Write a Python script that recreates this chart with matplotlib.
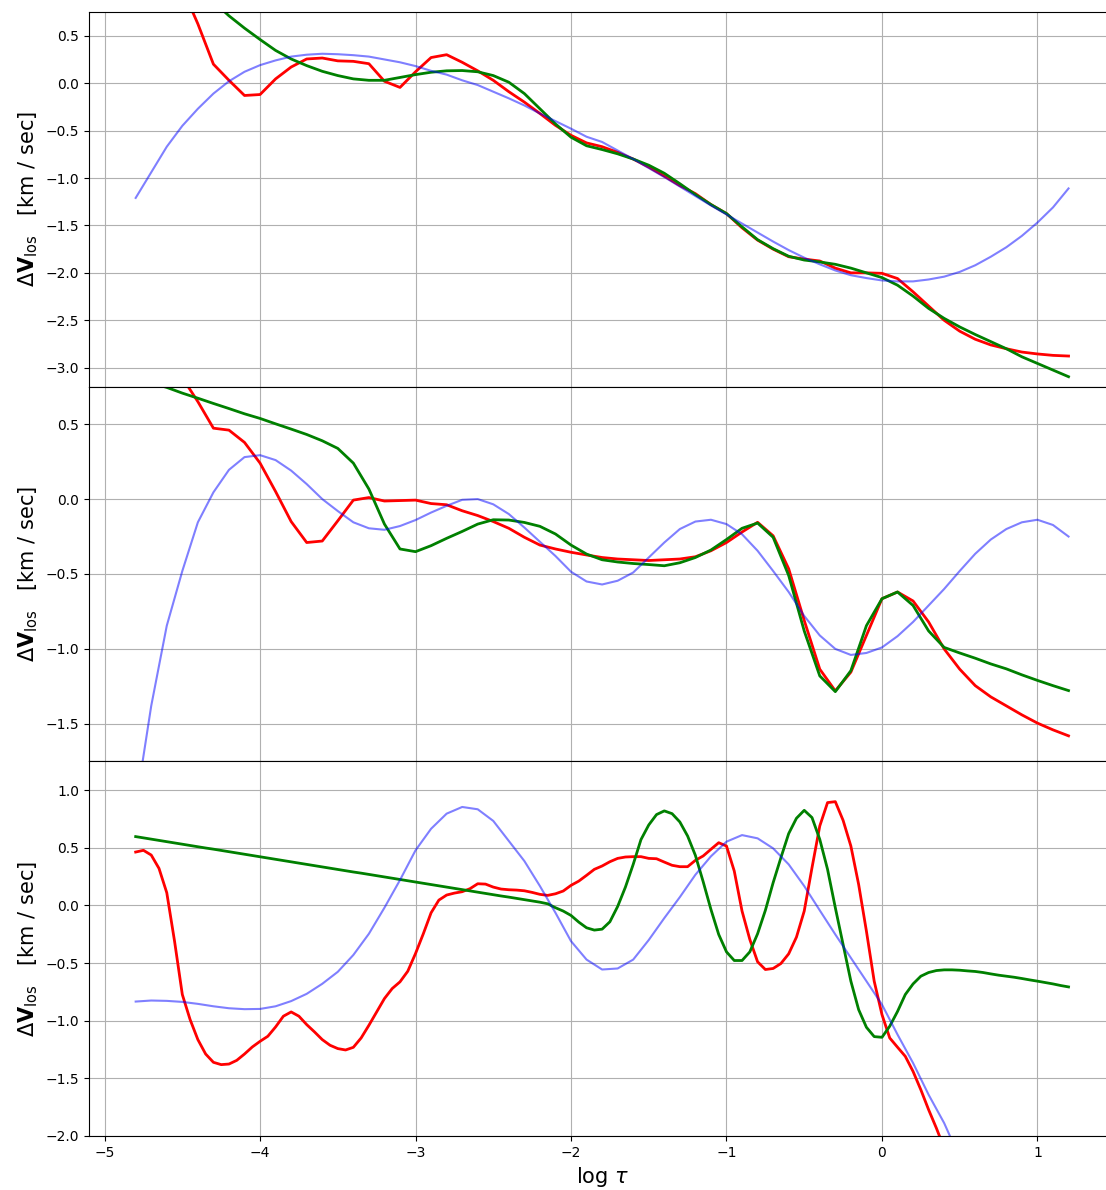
import numpy as np
import matplotlib
matplotlib.use("Agg")
import matplotlib.pyplot as plt

# optical depth grids (log tau)
tau10 = np.linspace(-4.8, 1.2, 61)
tau05 = np.linspace(-4.8, 1.2, 121)

# panel 1
p1_red = [1.8, 1.55, 1.3, 1.0, 0.625, 0.20, 0.03, -0.13, -0.12, 0.045,
          0.17, 0.255, 0.265, 0.235, 0.23, 0.205, 0.02, -0.045, 0.12, 0.27,
          0.30, 0.22, 0.13, 0.03, -0.09, -0.20, -0.32, -0.445, -0.55, -0.63,
          -0.67, -0.73, -0.80, -0.885, -0.98, -1.08, -1.165, -1.28, -1.375, -1.525,
          -1.655, -1.75, -1.83, -1.855, -1.875, -1.95, -2.0, -2.0, -2.005, -2.06,
          -2.2, -2.35, -2.50, -2.615, -2.70, -2.76, -2.80, -2.835, -2.855, -2.87,
          -2.877]
p1_green = [1.5, 1.37, 1.24, 1.11, 0.99, 0.86, 0.71, 0.58, 0.46, 0.345,
            0.255, 0.185, 0.125, 0.08, 0.045, 0.03, 0.03, 0.06, 0.09, 0.115,
            0.13, 0.133, 0.12, 0.08, 0.01, -0.11, -0.27, -0.43, -0.57, -0.66,
            -0.70, -0.745, -0.80, -0.865, -0.95, -1.06, -1.175, -1.28, -1.375, -1.515,
            -1.65, -1.745, -1.825, -1.865, -1.885, -1.91, -1.95, -2.0, -2.05, -2.13,
            -2.245, -2.375, -2.48, -2.57, -2.65, -2.725, -2.80, -2.885, -2.955, -3.025,
            -3.095]
p1_blue = [-1.21, -0.94, -0.67, -0.45, -0.27, -0.11, 0.02, 0.12, 0.19, 0.24,
           0.28, 0.30, 0.31, 0.305, 0.295, 0.28, 0.25, 0.22, 0.18, 0.13,
           0.09, 0.03, -0.02, -0.09, -0.16, -0.235, -0.32, -0.40, -0.48, -0.565,
           -0.62, -0.71, -0.80, -0.895, -0.99, -1.09, -1.19, -1.29, -1.385, -1.48,
           -1.575, -1.67, -1.76, -1.84, -1.91, -1.975, -2.025, -2.055, -2.08, -2.09,
           -2.09, -2.07, -2.04, -1.99, -1.92, -1.83, -1.73, -1.61, -1.47, -1.31,
           -1.11]

# panel 2
p2_red = [1.35, 1.17, 0.99, 0.81, 0.65, 0.473, 0.46, 0.378, 0.24, 0.05,
          -0.15, -0.29, -0.28, -0.145, -0.007, 0.01, -0.013, -0.01, -0.007, -0.03,
          -0.038, -0.078, -0.11, -0.15, -0.195, -0.255, -0.307, -0.333, -0.355, -0.373,
          -0.39, -0.40, -0.405, -0.41, -0.405, -0.40, -0.385, -0.345, -0.29, -0.22,
          -0.155, -0.245, -0.465, -0.81, -1.135, -1.28, -1.155, -0.91, -0.665, -0.62,
          -0.68, -0.82, -1.0, -1.135, -1.245, -1.32, -1.38, -1.44, -1.495, -1.54,
          -1.58]
p2_green = [0.81, 0.775, 0.745, 0.707, 0.673, 0.638, 0.604, 0.569, 0.538, 0.502,
            0.467, 0.431, 0.389, 0.338, 0.24, 0.067, -0.167, -0.333, -0.351, -0.311,
            -0.262, -0.216, -0.167, -0.138, -0.14, -0.156, -0.182, -0.233, -0.307, -0.367,
            -0.405, -0.42, -0.43, -0.437, -0.445, -0.425, -0.39, -0.34, -0.27, -0.195,
            -0.16, -0.255, -0.51, -0.88, -1.18, -1.285, -1.145, -0.845, -0.665, -0.62,
            -0.71, -0.88, -0.99, -1.027, -1.062, -1.10, -1.133, -1.173, -1.21, -1.245,
            -1.278]
p2_blue = [-2.05, -1.38, -0.845, -0.48, -0.155, 0.045, 0.195, 0.28, 0.293, 0.26,
           0.19, 0.10, 0.0, -0.08, -0.155, -0.195, -0.205, -0.18, -0.14, -0.09,
           -0.045, -0.005, 0.0, -0.035, -0.10, -0.19, -0.285, -0.38, -0.485, -0.55,
           -0.57, -0.545, -0.49, -0.39, -0.29, -0.20, -0.15, -0.138, -0.167, -0.235,
           -0.345, -0.48, -0.62, -0.78, -0.91, -1.0, -1.04, -1.027, -0.99, -0.915,
           -0.82, -0.71, -0.60, -0.48, -0.365, -0.27, -0.20, -0.155, -0.138, -0.173,
           -0.25]

# panel 3 (red and green sampled on the finer grid)
p3_red = [0.463, 0.478, 0.437, 0.321, 0.11, -0.31, -0.773, -0.99, -1.164, -1.289,
          -1.361, -1.381, -1.376, -1.344, -1.289, -1.228, -1.179, -1.135, -1.054, -0.961,
          -0.924, -0.961, -1.034, -1.097, -1.164, -1.213, -1.242, -1.254, -1.231, -1.15,
          -1.04, -0.924, -0.808, -0.721, -0.663, -0.571, -0.417, -0.246, -0.064, 0.046,
          0.09, 0.107, 0.119, 0.145, 0.188, 0.185, 0.159, 0.142, 0.136, 0.133,
          0.127, 0.113, 0.096, 0.087, 0.101, 0.125, 0.174, 0.211, 0.261, 0.313,
          0.342, 0.379, 0.408, 0.42, 0.423, 0.423, 0.408, 0.405, 0.376, 0.348,
          0.336, 0.336, 0.391, 0.429, 0.487, 0.544, 0.515,
          0.298, -0.049, -0.295, -0.489, -0.556, -0.547, -0.504, -0.42, -0.275, -0.049,
          0.327, 0.689, 0.892, 0.90, 0.738, 0.515, 0.182, -0.223, -0.657, -0.947,
          -1.15, -1.23, -1.309, -1.44, -1.599, -1.772, -1.932, -2.105, -2.28, -2.45,
          -2.62, -2.8, -2.97, -3.15, -3.3, -3.45, -3.6, -3.75, -3.9, -4.05,
          -4.2, -4.35, -4.5, -4.65]
p3_green = [0.597, 0.586, 0.575, 0.564, 0.553, 0.542, 0.531, 0.520, 0.509, 0.498,
            0.488, 0.477, 0.466, 0.455, 0.444, 0.433, 0.422, 0.411, 0.400, 0.389,
            0.378, 0.367, 0.356, 0.345, 0.334, 0.323, 0.312, 0.301, 0.290, 0.280,
            0.269, 0.258, 0.247, 0.236, 0.225, 0.214, 0.203, 0.192, 0.181, 0.170,
            0.159, 0.148, 0.137, 0.126, 0.115, 0.104, 0.093, 0.082, 0.072, 0.061,
            0.050, 0.039, 0.028, 0.014, -0.02, -0.049, -0.087, -0.145, -0.194, -0.214,
            -0.206, -0.142, -0.009, 0.159, 0.356, 0.571, 0.698, 0.788, 0.82, 0.796,
            0.724, 0.602, 0.434, 0.206, -0.035, -0.252, -0.403,
            -0.478, -0.478, -0.403, -0.246, -0.043, 0.197, 0.414, 0.623, 0.756, 0.825,
            0.762, 0.573, 0.313, -0.02, -0.339, -0.657, -0.904, -1.057, -1.138, -1.144,
            -1.048, -0.92, -0.773, -0.681, -0.614, -0.582, -0.565, -0.559, -0.559, -0.562,
            -0.568, -0.573, -0.582, -0.594, -0.605, -0.614, -0.623, -0.634, -0.646, -0.657,
            -0.669, -0.681, -0.695, -0.707]
p3_blue = [-0.834, -0.825, -0.828, -0.837, -0.854, -0.875, -0.892, -0.90, -0.898, -0.875,
           -0.83, -0.767, -0.68, -0.576, -0.43, -0.246, -0.02, 0.22, 0.478, 0.665,
           0.796, 0.854, 0.834, 0.733, 0.559, 0.385, 0.168, -0.064, -0.31, -0.47,
           -0.556, -0.547, -0.47, -0.30, -0.11, 0.072, 0.266, 0.426, 0.553, 0.61,
           0.582, 0.495, 0.356, 0.168, -0.043, -0.252, -0.455, -0.657, -0.86, -1.12,
           -1.367, -1.642, -1.888, -2.19, -2.51, -2.83, -3.15, -3.5, -3.85, -4.2,
           -4.6]

panels = [
    (tau10, p1_red, tau10, p1_green, p1_blue, (-3.2, 0.75)),
    (tau10, p2_red, tau10, p2_green, p2_blue, (-1.75, 0.75)),
    (tau05, p3_red, tau05, p3_green, p3_blue, (-2.0, 1.25)),
]

fig, axes = plt.subplots(3, 1, sharex=True, figsize=(11.06, 11.90), dpi=100)
fig.subplots_adjust(left=0.0805, right=1.0083, bottom=0.0454, top=0.9899, hspace=0)

for ax, (xr, red, xg, green, blue, ylim) in zip(axes, panels):
    ax.plot(xr, red, color="red", lw=2)
    ax.plot(xg, green, color="green", lw=2)
    ax.plot(tau10, blue, color="blue", lw=1.5, alpha=0.5)
    ax.set_ylim(*ylim)
    ax.grid(True)
    ax.set_ylabel(r"$\Delta\mathbf{V}_{\rm los}$   [km / sec]", fontsize=15)

axes[0].set_xlim(-5.1, 1.5)
axes[2].set_xlabel(r"log $\tau$", fontsize=15)
fig.align_ylabels(axes)

fig.savefig("out.png", dpi=100)
